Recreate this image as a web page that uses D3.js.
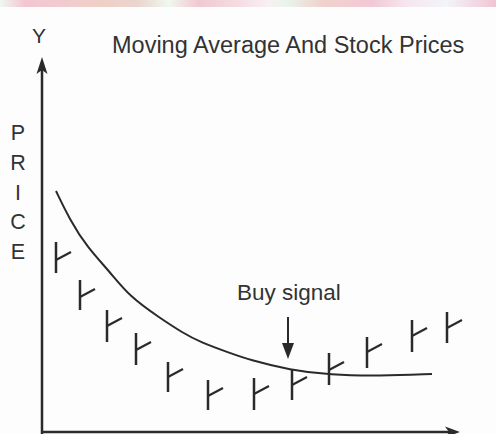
<!DOCTYPE html>
<html>
<head>
<meta charset="utf-8">
<script src="https://cdn.jsdelivr.net/npm/d3@7/dist/d3.min.js"></script>
<style>
  html, body { margin: 0; padding: 0; background: #fdfdfd; }
  svg { display: block; }
  text { font-family: "Liberation Sans", Arial, Helvetica, sans-serif; fill: #333; }
</style>
</head>
<body>
<svg id="chart" width="496" height="434"></svg>
<script>
// ---- data ----
const title = "Moving Average And Stock Prices";
const yAxisLabel = "Y";
const priceLetters = ["P", "R", "I", "C", "E"];
const annotationText = "Buy signal";

// stock price bars: day, high, low, close
const barDays   = [7, 19, 32.5, 47, 63, 83, 106, 125, 143.5, 162.5, 185, 202.5];
const barHighs  = [38, 30.4, 24.4, 19.8, 14, 10.4, 10.8, 12.4, 15.8, 19, 22.4, 24];
const barLows   = [31.8, 24.4, 18, 13.4, 8, 4.4, 4.4, 6.4, 9.4, 12.8, 16, 17.8];
const barCloses = [34.4, 27, 21.2, 16.4, 11, 7.2, 7.6, 9.4, 12.4, 16, 19.2, 20.8];

// moving average curve
const maDays   = [7, 14, 22.5, 34, 44, 59, 70.5, 79, 94, 104, 124, 144, 169, 195];
const maValues = [48.2, 42.4, 37, 32, 27, 22.8, 19.8, 18, 15.8, 14.4, 12.4, 11.4, 11.2, 11.6];

// buy signal point
const buyDay = 123;
const buyPrice = 14.6;

// ---- layout ----
const svg = d3.select("#chart");
const W = 496, H = 434;
const x = d3.scaleLinear().domain([0, 209]).range([42, 460]);
const y = d3.scaleLinear().domain([0, 75]).range([432, 57]);
const ink = "#2a2a2a";

// top decorative strip
const defs = svg.append("defs");
const grad = defs.append("linearGradient").attr("id", "strip");
[["0%", "#eef8f2"], ["5%", "#f3c6d2"], ["12%", "#f1cbd0"], ["20%", "#efcfc6"], ["28%", "#ead6cf"],
 ["34%", "#f0f8ef"], ["40%", "#f1c8d2"], ["48%", "#f5dce3"], ["54%", "#f8f0f4"], ["58%", "#e9f4ea"],
 ["65%", "#f0d2cc"], ["75%", "#f2c8d6"], ["82%", "#f6e6ee"], ["90%", "#f3f4fa"], ["100%", "#f2c4d2"]]
  .forEach(([o, c]) => grad.append("stop").attr("offset", o).attr("stop-color", c));
svg.append("rect").attr("x", 0).attr("y", 0).attr("width", W).attr("height", 7).attr("fill", "url(#strip)");

// axes
svg.append("line").attr("x1", x(0)).attr("x2", x(0)).attr("y1", H).attr("y2", y(75) + 10)
  .attr("stroke", ink).attr("stroke-width", 2.5);
svg.append("path")
  .attr("d", `M${x(0)},${y(75)} L${x(0) - 5.5},${y(75) + 17} L${x(0)},${y(75) + 13} L${x(0) + 5.5},${y(75) + 17} Z`)
  .attr("fill", ink);
svg.append("line").attr("x1", x(0)).attr("x2", x(209) - 8).attr("y1", y(0)).attr("y2", y(0))
  .attr("stroke", ink).attr("stroke-width", 2.5);
svg.append("path")
  .attr("d", `M${x(209)},${y(0)} L${x(209) - 15},${y(0) - 5.5} L${x(209) - 11},${y(0)} L${x(209) - 15},${y(0) + 5.5} Z`)
  .attr("fill", ink);

// labels
svg.append("text").attr("x", 39).attr("y", 43).attr("text-anchor", "middle")
  .attr("font-size", 21).text(yAxisLabel);
svg.append("text").attr("x", 112).attr("y", 53).attr("font-size", 23.5).text(title);
svg.selectAll("text.price").data(priceLetters).join("text").attr("class", "price")
  .attr("x", 18).attr("y", (d, i) => 140 + i * 29.8).attr("text-anchor", "middle")
  .attr("font-size", 21.5).text(d => d);

// moving average
const line = d3.line().x(d => x(d[0])).y(d => y(d[1])).curve(d3.curveBasis);
svg.append("path").datum(maDays.map((d, i) => [d, maValues[i]]))
  .attr("d", line).attr("fill", "none").attr("stroke", ink).attr("stroke-width", 2);

// price bars
const bars = barDays.map((d, i) => ({ d, h: barHighs[i], l: barLows[i], c: barCloses[i] }));
const g = svg.append("g").attr("stroke", ink).attr("stroke-width", 2.5).attr("stroke-linecap", "butt");
g.selectAll("line.hl").data(bars).join("line").attr("class", "hl")
  .attr("x1", b => x(b.d)).attr("x2", b => x(b.d)).attr("y1", b => y(b.h)).attr("y2", b => y(b.l));
g.selectAll("line.cl").data(bars).join("line").attr("class", "cl")
  .attr("stroke-width", 2.2)
  .attr("x1", b => x(b.d)).attr("x2", b => x(b.d) + 15).attr("y1", b => y(b.c)).attr("y2", b => y(b.c) - 8);

// buy signal
const bx = x(buyDay), by = y(buyPrice);
svg.append("text").attr("x", 237).attr("y", 300).attr("font-size", 22.5).text(annotationText);
svg.append("line").attr("x1", bx).attr("x2", bx).attr("y1", by - 42).attr("y2", by - 10)
  .attr("stroke", ink).attr("stroke-width", 2);
svg.append("path").attr("d", `M${bx},${by} L${bx - 6},${by - 16} L${bx + 6},${by - 16} Z`).attr("fill", ink);
</script>
</body>
</html>
